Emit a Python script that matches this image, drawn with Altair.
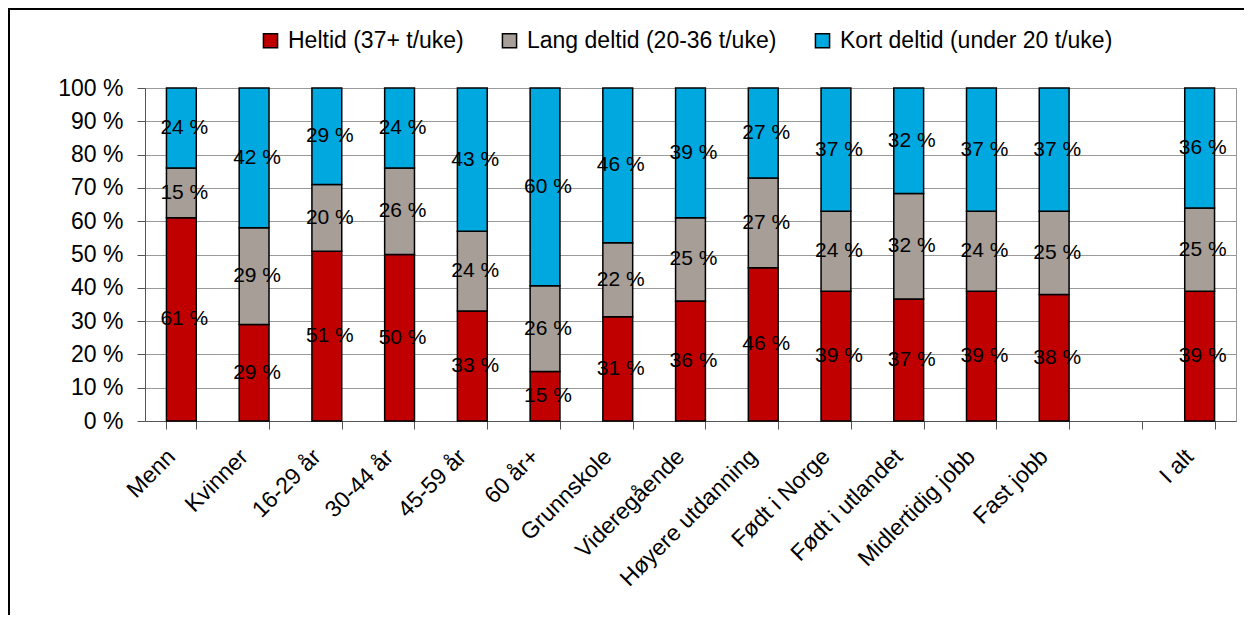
import altair as alt
import pandas as pd

categories = ["Menn", "Kvinner", "16-29 år", "30-44 år", "45-59 år", "60 år+",
              "Grunnskole", "Videregående", "Høyere utdanning", "Født i Norge",
              "Født i utlandet", "Midlertidig jobb", "Fast jobb", " ", "I alt"]
series = ["Heltid (37+ t/uke)", "Lang deltid (20-36 t/uke)", "Kort deltid (under 20 t/uke)"]
colors = ["#C00000", "#A69E97", "#00A8E0"]

# None = empty slot
heltid = [61, 29, 51, 50, 33, 15, 31, 36, 46, 39, 37, 39, 38, None, 39]
lang   = [15, 29, 20, 26, 24, 26, 22, 25, 27, 24, 32, 24, 25, None, 25]
kort   = [24, 42, 29, 24, 43, 60, 46, 39, 27, 37, 32, 37, 37, None, 36]
yticks = list(range(0, 101, 10))

rows = []
for i, c in enumerate(categories):
    for k, (s, vals) in enumerate(zip(series, [heltid, lang, kort])):
        if vals[i] is not None:
            rows.append({"kategori": c, "serie": s, "order": k, "verdi": vals[i]})
df = pd.DataFrame(rows)

FONT = "Liberation Sans"

base = alt.Chart(df).transform_joinaggregate(
    total="sum(verdi)", groupby=["kategori"]
).transform_calculate(
    pct="datum.verdi / datum.total * 100"
).transform_stack(
    stack="pct", groupby=["kategori"], sort=[alt.SortField("order", order="ascending")],
    as_=["y0", "y1"]
).transform_calculate(
    mid="(datum.y0 + datum.y1) / 2",
    etikett="format(datum.verdi, 'd') + ' %'"
)

xscale = alt.Scale(domain=categories, paddingInner=0.59, paddingOuter=0.295)
xaxis = alt.Axis(title=None, labelAngle=-45, labelAlign="right", labelBaseline="top",
                 labelFontSize=23, labelFont=FONT, labelColor="#000",
                 tickBand="extent", tickSize=8, tickColor="#555", domainColor="#555",
                 labelPadding=16, labelOffset=-18, grid=False, labelOverlap=False,
                 labelLimit=0)
yscale = alt.Scale(domain=[0, 100])
yaxis = alt.Axis(title=None, values=yticks, tickCount=11,
                 labelExpr="datum.value + ' %'", labelFontSize=23, labelFont=FONT,
                 labelColor="#000", tickSize=8, tickColor="#555", domainColor="#555",
                 gridColor="#999", gridWidth=1, labelPadding=14, labelOverlap=False)

bars = base.mark_bar(stroke="black", strokeWidth=1.5).encode(
    x=alt.X("kategori:N", scale=xscale, axis=xaxis),
    y=alt.Y("y0:Q", scale=yscale, axis=yaxis),
    y2="y1:Q",
    color=alt.Color("serie:N", scale=alt.Scale(domain=series, range=colors),
                    legend=alt.Legend(title=None, orient="none", direction="horizontal",
                                      legendX=114, legendY=-59, labelFontSize=23, labelFont=FONT,
                                      labelColor="#000", symbolType="square", symbolSize=200,
                                      symbolStrokeColor="black", symbolStrokeWidth=1.5,
                                      columnPadding=34, labelOffset=6, columns=3, labelLimit=0)),
)

labels = base.mark_text(fontSize=21, font=FONT, color="#000", dx=3, baseline="middle").encode(
    x=alt.X("kategori:N", scale=xscale, axis=xaxis),
    y=alt.Y("mid:Q", scale=yscale, axis=yaxis),
    text="etikett:N",
)

frame = alt.Chart(pd.DataFrame({"a": [0]})).mark_rect(
    fill=None, stroke="black", strokeWidth=2
).encode(
    x=alt.value(-136), x2=alt.value(1400), y=alt.value(-79), y2=alt.value(900)
)

chart = alt.layer(frame, bars, labels).properties(
    width=1091, height=333,
    autosize=alt.AutoSizeParams(type="none"),
    padding={"left": 137, "top": 80, "right": 8, "bottom": 194},
).configure_view(stroke="#999", strokeWidth=1)

chart.save("out.html", embed_options={"renderer": "svg", "actions": False})
